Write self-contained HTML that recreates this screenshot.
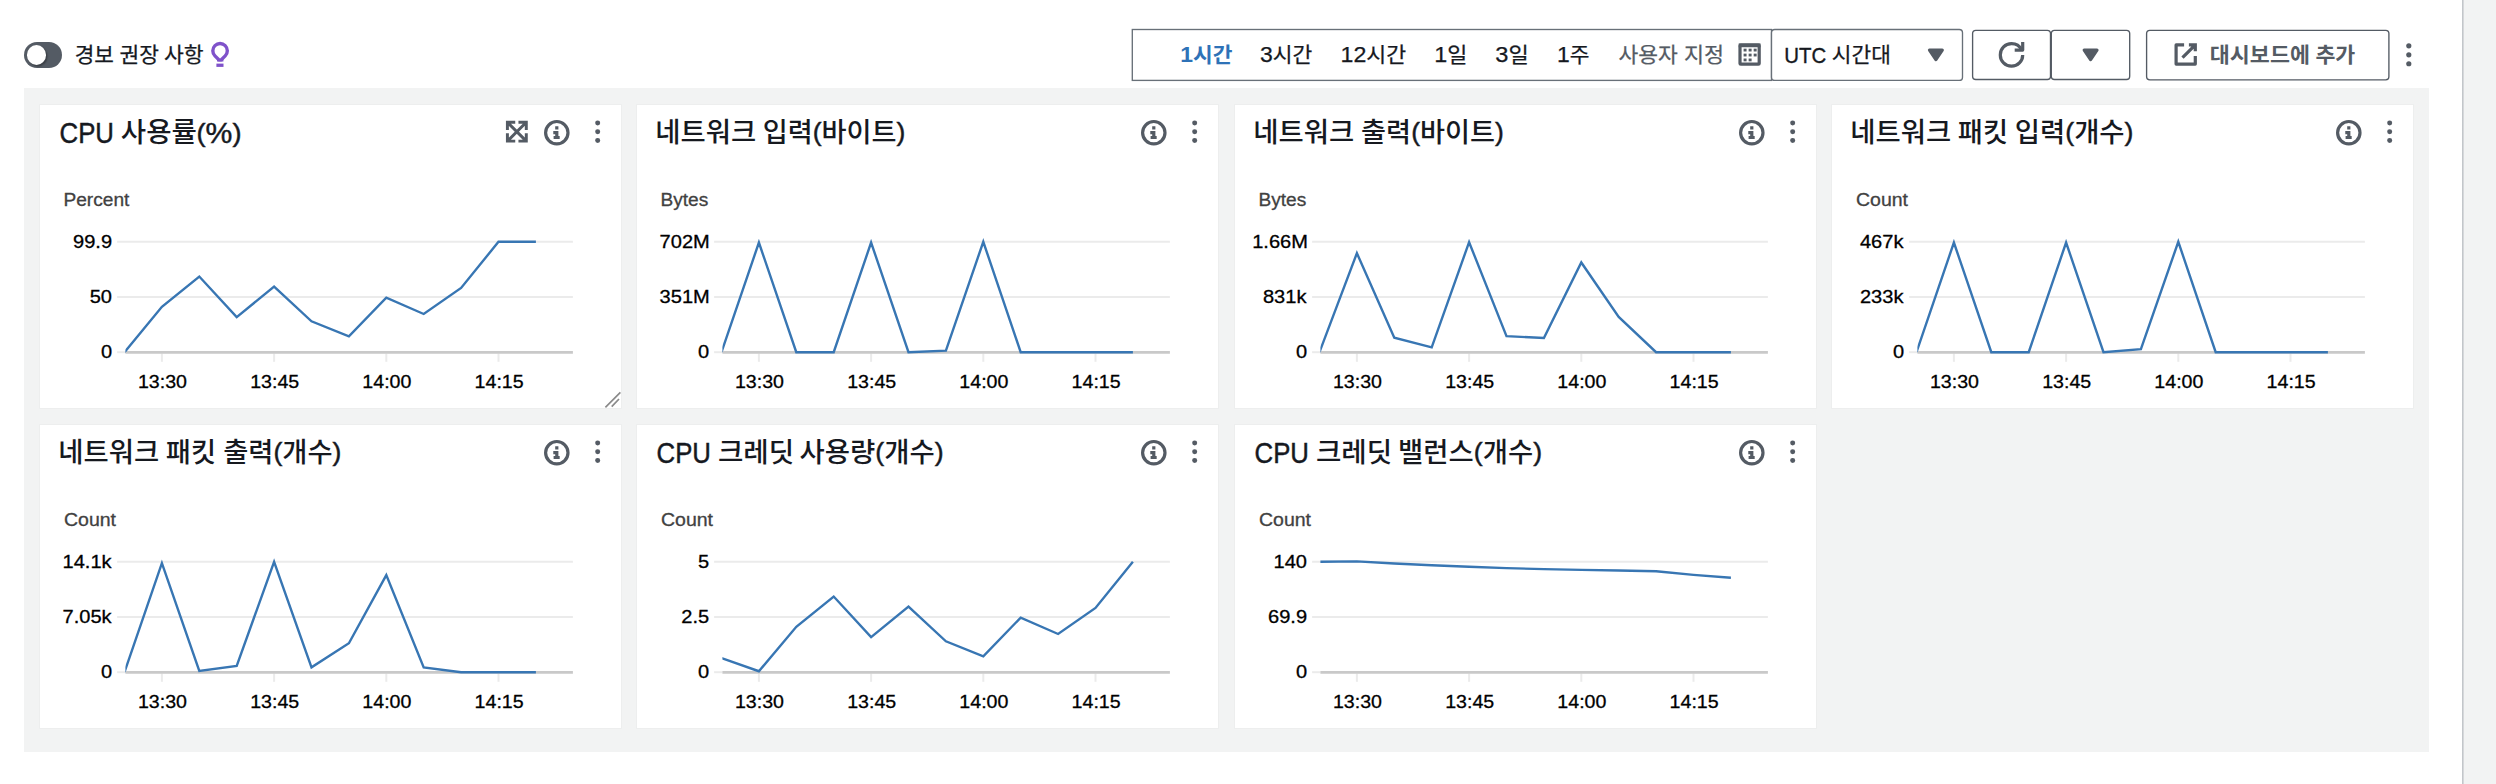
<!DOCTYPE html>
<html lang="ko"><head><meta charset="utf-8"><title>CloudWatch</title>
<style>
*{box-sizing:border-box;margin:0;padding:0}
html,body{width:2496px;height:784px;overflow:hidden;background:#fff}
body{font-family:"Liberation Sans", "Noto Sans CJK KR", sans-serif;color:#16191f;position:relative}
div{position:absolute}
#side{left:2461.6px;top:0;width:35px;height:784px;background:linear-gradient(to right,#c9ccd0 0,#bfc3c7 0.8px,#d9dbdd 1.6px,#f2f3f3 2.4px)}
#grid{left:24px;top:88px;width:2405px;height:664px;background:#f2f3f3}
.panel{width:581.4px;height:303.4px;background:#fff;box-shadow:0 0 0 0.8px #ebeded}
.bx{fill:#fff;stroke:#687078;stroke-width:1.35}
.bt{fill:#fff;stroke:#545b64;stroke-width:1.35}
svg{position:absolute;left:0;top:0;overflow:visible}
text{font-family:"Liberation Sans", "Noto Sans CJK KR", sans-serif;white-space:pre}
.ic{fill:none;stroke:#545b64;stroke-width:2;stroke-linejoin:round}
.sq{stroke-linejoin:miter}
.icf{fill:#545b64;stroke:none}
.grid{stroke:#ebebeb;stroke-width:2}
.base{stroke:#c9c9c9;stroke-width:2.8}
.ln{fill:none;stroke:#3876b3;stroke-width:2.4;stroke-linejoin:miter}
.rz{fill:none;stroke:#8a8a8a;stroke-width:1.7}
.tt{font-size:26.9px;fill:#16191f;font-weight:500}
.tl{font-size:28.6px;fill:#16191f;stroke:#16191f;stroke-width:0.45px}
.pa{font-size:26.2px;font-weight:400;stroke:#16191f;stroke-width:0.45px}
.pc{font-size:29px}
.tb{font-size:20.9px;fill:#16191f;stroke:#16191f;stroke-width:0.25px}
.tb .la{font-size:22.4px}
.tbl{font-size:22.4px;fill:#16191f;stroke:#16191f;stroke-width:0.35px}
.sel{fill:#2e72b7;stroke:none;font-weight:bold}
.gr{fill:#545b64;stroke:#545b64}
.bd{font-weight:bold;stroke:none}
.unit{font-size:19.2px;fill:#414141;stroke:#414141;stroke-width:0.3px}
.ax{font-size:19.2px;fill:#000;stroke:#000;stroke-width:0.3px}
</style></head><body>
<div id="side"></div>
<div style="left:24px;top:42px;width:38.4px;height:25.8px;border-radius:13px;background:#545b64"></div>
<div style="left:26.6px;top:44.75px;width:19.6px;height:20.3px;border-radius:50%;background:#fff;box-shadow:1.5px 1.5px 1.5px rgba(0,0,0,.3)"></div>
<div id="grid"></div>
<div class="panel" style="left:39.80px;top:104.70px"></div>
<div class="panel" style="left:637.00px;top:104.70px"></div>
<div class="panel" style="left:1234.50px;top:104.70px"></div>
<div class="panel" style="left:1832.00px;top:104.70px"></div>
<div class="panel" style="left:39.80px;top:424.80px"></div>
<div class="panel" style="left:637.00px;top:424.80px"></div>
<div class="panel" style="left:1234.50px;top:424.80px"></div>
<svg width="2496" height="784" viewBox="0 0 2496 784">
<rect class="bx" x="1132.30" y="29.50" width="639.20" height="50.90" rx="0.0"/>
<rect class="bx" x="1771.50" y="29.50" width="191.00" height="50.90" rx="3.2"/>
<rect class="bt" x="1972.60" y="30.40" width="77.90" height="49.10" rx="3.2"/>
<rect class="bt" x="2051.30" y="30.40" width="78.40" height="49.10" rx="3.2"/>
<rect class="bt" x="2146.60" y="30.40" width="242.30" height="49.40" rx="3.2"/>
<defs><clipPath id="pc"><rect x="85.60" y="100" width="460" height="160"/></clipPath></defs>
<g transform="translate(39.80 104.60)">
<line class="grid" x1="77.3" y1="137.20" x2="533.1" y2="137.20"/>
<line class="grid" x1="77.3" y1="192.35" x2="533.1" y2="192.35"/>
<line class="grid" x1="77.3" y1="247.60" x2="85.6" y2="247.60"/>
<line class="grid" x1="122.10" y1="249.00" x2="122.10" y2="257.20"/>
<line class="grid" x1="234.30" y1="249.00" x2="234.30" y2="257.20"/>
<line class="grid" x1="346.50" y1="249.00" x2="346.50" y2="257.20"/>
<line class="grid" x1="458.70" y1="249.00" x2="458.70" y2="257.20"/>
<line class="base" x1="85.6" y1="247.75" x2="533.1" y2="247.75"/>
<polyline class="ln" clip-path="url(#pc)" points="84.70,247.60 122.10,202.24 159.50,171.94 196.90,212.47 234.30,181.98 271.70,216.72 309.10,231.77 346.50,192.98 383.90,209.38 421.30,183.33 458.70,137.20 496.10,137.20"/>
<text class="ax" x="33.22" y="143.65" textLength="39.04" lengthAdjust="spacingAndGlyphs">99.9</text>
<text class="ax" x="49.83" y="198.65" textLength="22.30" lengthAdjust="spacingAndGlyphs">50</text>
<text class="ax" x="61.15" y="253.30" textLength="11.15" lengthAdjust="spacingAndGlyphs">0</text>
<text class="ax" x="98.12" y="283.20" textLength="49.07" lengthAdjust="spacingAndGlyphs">13:30</text>
<text class="ax" x="210.40" y="283.20" textLength="49.07" lengthAdjust="spacingAndGlyphs">13:45</text>
<text class="ax" x="322.52" y="283.20" textLength="49.07" lengthAdjust="spacingAndGlyphs">14:00</text>
<text class="ax" x="434.80" y="283.20" textLength="49.07" lengthAdjust="spacingAndGlyphs">14:15</text>
<g transform="translate(464.25 14.30) scale(1.6)" class="ic sq"><path stroke-width="1.85" d="M2.100 7V2.100h4.900M9 2.100h4.900V7M13.900 9v4.900H9M7 13.900H2.100V9M2.100 2.100l11.800 11.800M13.900 2.100L2.100 13.900"/></g>
<path class="rz" d="M565.6 302.7L580.6 287.8M571.9 302L579.2 294.4"/>
<g transform="translate(504.20 15.30) scale(1.6)" class="ic"><circle cx="8" cy="8" r="7"/><path stroke-linejoin="miter" d="M8 11V8H5.800M6 11h3.800M7 5h2"/></g>
<g transform="translate(545.10 14.35) scale(1.6)" class="icf"><circle cx="8" cy="2.5" r="1.56"/><circle cx="8" cy="8" r="1.56"/><circle cx="8" cy="13.5" r="1.56"/></g>
</g>
<g transform="translate(636.80 104.60)">
<line class="grid" x1="77.3" y1="137.20" x2="533.1" y2="137.20"/>
<line class="grid" x1="77.3" y1="192.35" x2="533.1" y2="192.35"/>
<line class="grid" x1="77.3" y1="247.60" x2="85.6" y2="247.60"/>
<line class="grid" x1="122.10" y1="249.00" x2="122.10" y2="257.20"/>
<line class="grid" x1="234.30" y1="249.00" x2="234.30" y2="257.20"/>
<line class="grid" x1="346.50" y1="249.00" x2="346.50" y2="257.20"/>
<line class="grid" x1="458.70" y1="249.00" x2="458.70" y2="257.20"/>
<line class="base" x1="85.6" y1="247.75" x2="533.1" y2="247.75"/>
<polyline class="ln" clip-path="url(#pc)" points="84.70,247.60 122.10,137.97 159.50,247.60 196.90,247.60 234.30,137.97 271.70,247.60 309.10,246.06 346.50,137.20 383.90,247.60 421.30,247.60 458.70,247.60 496.10,247.60"/>
<text class="ax" x="22.79" y="143.65" textLength="50.16" lengthAdjust="spacingAndGlyphs">702M</text>
<text class="ax" x="22.79" y="198.65" textLength="50.16" lengthAdjust="spacingAndGlyphs">351M</text>
<text class="ax" x="61.15" y="253.30" textLength="11.15" lengthAdjust="spacingAndGlyphs">0</text>
<text class="ax" x="98.12" y="283.20" textLength="49.07" lengthAdjust="spacingAndGlyphs">13:30</text>
<text class="ax" x="210.40" y="283.20" textLength="49.07" lengthAdjust="spacingAndGlyphs">13:45</text>
<text class="ax" x="322.52" y="283.20" textLength="49.07" lengthAdjust="spacingAndGlyphs">14:00</text>
<text class="ax" x="434.80" y="283.20" textLength="49.07" lengthAdjust="spacingAndGlyphs">14:15</text>
<g transform="translate(504.20 15.30) scale(1.6)" class="ic"><circle cx="8" cy="8" r="7"/><path stroke-linejoin="miter" d="M8 11V8H5.800M6 11h3.800M7 5h2"/></g>
<g transform="translate(545.10 14.35) scale(1.6)" class="icf"><circle cx="8" cy="2.5" r="1.56"/><circle cx="8" cy="8" r="1.56"/><circle cx="8" cy="13.5" r="1.56"/></g>
</g>
<g transform="translate(1234.80 104.60)">
<line class="grid" x1="77.3" y1="137.20" x2="533.1" y2="137.20"/>
<line class="grid" x1="77.3" y1="192.35" x2="533.1" y2="192.35"/>
<line class="grid" x1="77.3" y1="247.60" x2="85.6" y2="247.60"/>
<line class="grid" x1="122.10" y1="249.00" x2="122.10" y2="257.20"/>
<line class="grid" x1="234.30" y1="249.00" x2="234.30" y2="257.20"/>
<line class="grid" x1="346.50" y1="249.00" x2="346.50" y2="257.20"/>
<line class="grid" x1="458.70" y1="249.00" x2="458.70" y2="257.20"/>
<line class="base" x1="85.6" y1="247.75" x2="533.1" y2="247.75"/>
<polyline class="ln" clip-path="url(#pc)" points="84.70,247.60 122.10,148.59 159.50,233.12 196.90,242.77 234.30,137.59 271.70,231.58 309.10,233.32 346.50,157.85 383.90,212.28 421.30,247.60 458.70,247.60 496.10,247.60"/>
<text class="ax" x="17.38" y="143.65" textLength="55.73" lengthAdjust="spacingAndGlyphs">1.66M</text>
<text class="ax" x="28.17" y="198.65" textLength="43.48" lengthAdjust="spacingAndGlyphs">831k</text>
<text class="ax" x="61.15" y="253.30" textLength="11.15" lengthAdjust="spacingAndGlyphs">0</text>
<text class="ax" x="98.12" y="283.20" textLength="49.07" lengthAdjust="spacingAndGlyphs">13:30</text>
<text class="ax" x="210.40" y="283.20" textLength="49.07" lengthAdjust="spacingAndGlyphs">13:45</text>
<text class="ax" x="322.52" y="283.20" textLength="49.07" lengthAdjust="spacingAndGlyphs">14:00</text>
<text class="ax" x="434.80" y="283.20" textLength="49.07" lengthAdjust="spacingAndGlyphs">14:15</text>
<g transform="translate(504.20 15.30) scale(1.6)" class="ic"><circle cx="8" cy="8" r="7"/><path stroke-linejoin="miter" d="M8 11V8H5.800M6 11h3.800M7 5h2"/></g>
<g transform="translate(545.10 14.35) scale(1.6)" class="icf"><circle cx="8" cy="2.5" r="1.56"/><circle cx="8" cy="8" r="1.56"/><circle cx="8" cy="13.5" r="1.56"/></g>
</g>
<g transform="translate(1831.80 104.60)">
<line class="grid" x1="77.3" y1="137.20" x2="533.1" y2="137.20"/>
<line class="grid" x1="77.3" y1="192.35" x2="533.1" y2="192.35"/>
<line class="grid" x1="77.3" y1="247.60" x2="85.6" y2="247.60"/>
<line class="grid" x1="122.10" y1="249.00" x2="122.10" y2="257.20"/>
<line class="grid" x1="234.30" y1="249.00" x2="234.30" y2="257.20"/>
<line class="grid" x1="346.50" y1="249.00" x2="346.50" y2="257.20"/>
<line class="grid" x1="458.70" y1="249.00" x2="458.70" y2="257.20"/>
<line class="base" x1="85.6" y1="247.75" x2="533.1" y2="247.75"/>
<polyline class="ln" clip-path="url(#pc)" points="84.70,247.60 122.10,137.97 159.50,247.60 196.90,247.60 234.30,137.97 271.70,247.60 309.10,244.51 346.50,137.20 383.90,247.60 421.30,247.60 458.70,247.60 496.10,247.60"/>
<text class="ax" x="28.17" y="143.65" textLength="43.48" lengthAdjust="spacingAndGlyphs">467k</text>
<text class="ax" x="28.17" y="198.65" textLength="43.48" lengthAdjust="spacingAndGlyphs">233k</text>
<text class="ax" x="61.15" y="253.30" textLength="11.15" lengthAdjust="spacingAndGlyphs">0</text>
<text class="ax" x="98.12" y="283.20" textLength="49.07" lengthAdjust="spacingAndGlyphs">13:30</text>
<text class="ax" x="210.40" y="283.20" textLength="49.07" lengthAdjust="spacingAndGlyphs">13:45</text>
<text class="ax" x="322.52" y="283.20" textLength="49.07" lengthAdjust="spacingAndGlyphs">14:00</text>
<text class="ax" x="434.80" y="283.20" textLength="49.07" lengthAdjust="spacingAndGlyphs">14:15</text>
<g transform="translate(504.20 15.30) scale(1.6)" class="ic"><circle cx="8" cy="8" r="7"/><path stroke-linejoin="miter" d="M8 11V8H5.800M6 11h3.800M7 5h2"/></g>
<g transform="translate(545.10 14.35) scale(1.6)" class="icf"><circle cx="8" cy="2.5" r="1.56"/><circle cx="8" cy="8" r="1.56"/><circle cx="8" cy="13.5" r="1.56"/></g>
</g>
<g transform="translate(39.80 424.60)">
<line class="grid" x1="77.3" y1="137.20" x2="533.1" y2="137.20"/>
<line class="grid" x1="77.3" y1="192.35" x2="533.1" y2="192.35"/>
<line class="grid" x1="77.3" y1="247.60" x2="85.6" y2="247.60"/>
<line class="grid" x1="122.10" y1="249.00" x2="122.10" y2="257.20"/>
<line class="grid" x1="234.30" y1="249.00" x2="234.30" y2="257.20"/>
<line class="grid" x1="346.50" y1="249.00" x2="346.50" y2="257.20"/>
<line class="grid" x1="458.70" y1="249.00" x2="458.70" y2="257.20"/>
<line class="base" x1="85.6" y1="247.75" x2="533.1" y2="247.75"/>
<polyline class="ln" clip-path="url(#pc)" points="84.70,247.60 122.10,138.55 159.50,246.25 196.90,241.23 234.30,137.20 271.70,242.77 309.10,218.65 346.50,150.52 383.90,242.77 421.30,247.60 458.70,247.60 496.10,247.60"/>
<text class="ax" x="22.71" y="143.65" textLength="49.07" lengthAdjust="spacingAndGlyphs">14.1k</text>
<text class="ax" x="22.71" y="198.65" textLength="49.07" lengthAdjust="spacingAndGlyphs">7.05k</text>
<text class="ax" x="61.15" y="253.30" textLength="11.15" lengthAdjust="spacingAndGlyphs">0</text>
<text class="ax" x="98.12" y="283.20" textLength="49.07" lengthAdjust="spacingAndGlyphs">13:30</text>
<text class="ax" x="210.40" y="283.20" textLength="49.07" lengthAdjust="spacingAndGlyphs">13:45</text>
<text class="ax" x="322.52" y="283.20" textLength="49.07" lengthAdjust="spacingAndGlyphs">14:00</text>
<text class="ax" x="434.80" y="283.20" textLength="49.07" lengthAdjust="spacingAndGlyphs">14:15</text>
<g transform="translate(504.20 15.30) scale(1.6)" class="ic"><circle cx="8" cy="8" r="7"/><path stroke-linejoin="miter" d="M8 11V8H5.800M6 11h3.800M7 5h2"/></g>
<g transform="translate(545.10 14.35) scale(1.6)" class="icf"><circle cx="8" cy="2.5" r="1.56"/><circle cx="8" cy="8" r="1.56"/><circle cx="8" cy="13.5" r="1.56"/></g>
</g>
<g transform="translate(636.80 424.60)">
<line class="grid" x1="77.3" y1="137.20" x2="533.1" y2="137.20"/>
<line class="grid" x1="77.3" y1="192.35" x2="533.1" y2="192.35"/>
<line class="grid" x1="77.3" y1="247.60" x2="85.6" y2="247.60"/>
<line class="grid" x1="122.10" y1="249.00" x2="122.10" y2="257.20"/>
<line class="grid" x1="234.30" y1="249.00" x2="234.30" y2="257.20"/>
<line class="grid" x1="346.50" y1="249.00" x2="346.50" y2="257.20"/>
<line class="grid" x1="458.70" y1="249.00" x2="458.70" y2="257.20"/>
<line class="base" x1="85.6" y1="247.75" x2="533.1" y2="247.75"/>
<polyline class="ln" clip-path="url(#pc)" points="84.70,233.51 122.10,246.63 159.50,202.24 196.90,171.94 234.30,212.47 271.70,181.98 309.10,216.72 346.50,231.77 383.90,192.98 421.30,209.38 458.70,183.33 496.10,137.20"/>
<text class="ax" x="61.21" y="143.65" textLength="11.15" lengthAdjust="spacingAndGlyphs">5</text>
<text class="ax" x="44.49" y="198.65" textLength="27.89" lengthAdjust="spacingAndGlyphs">2.5</text>
<text class="ax" x="61.15" y="253.30" textLength="11.15" lengthAdjust="spacingAndGlyphs">0</text>
<text class="ax" x="98.12" y="283.20" textLength="49.07" lengthAdjust="spacingAndGlyphs">13:30</text>
<text class="ax" x="210.40" y="283.20" textLength="49.07" lengthAdjust="spacingAndGlyphs">13:45</text>
<text class="ax" x="322.52" y="283.20" textLength="49.07" lengthAdjust="spacingAndGlyphs">14:00</text>
<text class="ax" x="434.80" y="283.20" textLength="49.07" lengthAdjust="spacingAndGlyphs">14:15</text>
<g transform="translate(504.20 15.30) scale(1.6)" class="ic"><circle cx="8" cy="8" r="7"/><path stroke-linejoin="miter" d="M8 11V8H5.800M6 11h3.800M7 5h2"/></g>
<g transform="translate(545.10 14.35) scale(1.6)" class="icf"><circle cx="8" cy="2.5" r="1.56"/><circle cx="8" cy="8" r="1.56"/><circle cx="8" cy="13.5" r="1.56"/></g>
</g>
<g transform="translate(1234.80 424.60)">
<line class="grid" x1="77.3" y1="137.20" x2="533.1" y2="137.20"/>
<line class="grid" x1="77.3" y1="192.35" x2="533.1" y2="192.35"/>
<line class="grid" x1="77.3" y1="247.60" x2="85.6" y2="247.60"/>
<line class="grid" x1="122.10" y1="249.00" x2="122.10" y2="257.20"/>
<line class="grid" x1="234.30" y1="249.00" x2="234.30" y2="257.20"/>
<line class="grid" x1="346.50" y1="249.00" x2="346.50" y2="257.20"/>
<line class="grid" x1="458.70" y1="249.00" x2="458.70" y2="257.20"/>
<line class="base" x1="85.6" y1="247.75" x2="533.1" y2="247.75"/>
<polyline class="ln" clip-path="url(#pc)" points="84.70,137.20 122.10,136.81 159.50,138.94 196.90,140.67 234.30,142.22 271.70,143.57 309.10,144.53 346.50,145.31 383.90,145.89 421.30,146.66 458.70,150.32 496.10,153.22"/>
<text class="ax" x="38.69" y="143.65" textLength="33.46" lengthAdjust="spacingAndGlyphs">140</text>
<text class="ax" x="33.22" y="198.65" textLength="39.04" lengthAdjust="spacingAndGlyphs">69.9</text>
<text class="ax" x="61.15" y="253.30" textLength="11.15" lengthAdjust="spacingAndGlyphs">0</text>
<text class="ax" x="98.12" y="283.20" textLength="49.07" lengthAdjust="spacingAndGlyphs">13:30</text>
<text class="ax" x="210.40" y="283.20" textLength="49.07" lengthAdjust="spacingAndGlyphs">13:45</text>
<text class="ax" x="322.52" y="283.20" textLength="49.07" lengthAdjust="spacingAndGlyphs">14:00</text>
<text class="ax" x="434.80" y="283.20" textLength="49.07" lengthAdjust="spacingAndGlyphs">14:15</text>
<g transform="translate(504.20 15.30) scale(1.6)" class="ic"><circle cx="8" cy="8" r="7"/><path stroke-linejoin="miter" d="M8 11V8H5.800M6 11h3.800M7 5h2"/></g>
<g transform="translate(545.10 14.35) scale(1.6)" class="icf"><circle cx="8" cy="2.5" r="1.56"/><circle cx="8" cy="8" r="1.56"/><circle cx="8" cy="13.5" r="1.56"/></g>
</g>
<g transform="translate(1736.80 41.80) scale(1.6)" class=""><rect x="2" y="2" width="12" height="12" rx="0.5" class="ic"/><rect x="1.2" y="1" width="13.6" height="2.4" class="icf"/><rect x="4.25" y="4.30" width="1.85" height="1.75" class="icf"/><rect x="7.40" y="4.30" width="1.85" height="1.75" class="icf"/><rect x="10.55" y="4.30" width="1.85" height="1.75" class="icf"/><rect x="4.25" y="7.40" width="1.85" height="1.75" class="icf"/><rect x="7.40" y="7.40" width="1.85" height="1.75" class="icf"/><rect x="10.55" y="7.40" width="1.85" height="1.75" class="icf"/><rect x="4.25" y="10.45" width="1.85" height="1.75" class="icf"/><rect x="7.40" y="10.45" width="1.85" height="1.75" class="icf"/></g>
<g transform="translate(1923.10 42.00) scale(1.6)" class="icf"><path d="M4 5h8l-4 6-4-6z" stroke="#545b64" stroke-width="2" stroke-linejoin="round"/></g>
<g transform="translate(1998.70 42.10) scale(1.6)" class="ic"><path d="M10 5h5V0"/><path d="M15 8a6.957 6.957 0 0 1-7 7 6.957 6.957 0 0 1-7-7 6.957 6.957 0 0 1 7-7 6.870 6.870 0 0 1 6.300 4"/></g>
<g transform="translate(2077.80 42.00) scale(1.6)" class="icf"><path d="M4 5h8l-4 6-4-6z" stroke="#545b64" stroke-width="2" stroke-linejoin="round"/></g>
<g transform="translate(2172.90 41.70) scale(1.6)" class="ic sq"><path d="M10 2h4v4M6 10l8-8"/><path d="M14 9v5H2V2h5" stroke-linejoin="round"/></g>
<g transform="translate(2396 42) scale(1.6)" class="icf"><circle cx="8" cy="2.4" r="1.62"/><circle cx="8" cy="8" r="1.62"/><circle cx="8" cy="13.6" r="1.62"/></g>
<g fill="none" stroke="#7f52ca" stroke-width="3.4" stroke-linejoin="miter"><clipPath id="bc"><rect x="205" y="38" width="30" height="23.5"/></clipPath><path clip-path="url(#bc)" d="M214.94 55.83A7.25 7.25 0 1 1 225.20 55.83L220.07 60.96Z"/><rect x="217" y="59.2" width="6.4" height="2.3" fill="#7f52ca" stroke="none"/><rect x="216.4" y="63.6" width="7.1" height="3.3" fill="#7f52ca" stroke="none"/></g>
<text class="tl" x="59.54" y="142.90" textLength="54.43" lengthAdjust="spacingAndGlyphs">CPU</text>
<text class="tt" x="120.85" y="142.10" textLength="76.01" lengthAdjust="spacingAndGlyphs">사용률</text>
<text class="tl" x="196.47" y="142.90" textLength="45.01" lengthAdjust="spacingAndGlyphs"><tspan class="pa" dy="-1.2">(</tspan><tspan class="pc" dy="1.2">%</tspan><tspan class="pa" dy="-1.2">)</tspan></text>
<text class="tt" x="655.34" y="142.10" textLength="100.88" lengthAdjust="spacingAndGlyphs">네트워크</text>
<text class="tt" x="762.66" y="142.10" textLength="142.78" lengthAdjust="spacingAndGlyphs">입력<tspan class="pa" dy="-1.2">(</tspan><tspan dy="1.2">바이트</tspan><tspan class="pa" dy="-1.2">)</tspan></text>
<text class="tt" x="1253.34" y="142.10" textLength="100.88" lengthAdjust="spacingAndGlyphs">네트워크</text>
<text class="tt" x="1361.12" y="142.10" textLength="142.72" lengthAdjust="spacingAndGlyphs">출력<tspan class="pa" dy="-1.2">(</tspan><tspan dy="1.2">바이트</tspan><tspan class="pa" dy="-1.2">)</tspan></text>
<text class="tt" x="1850.34" y="142.10" textLength="100.88" lengthAdjust="spacingAndGlyphs">네트워크</text>
<text class="tt" x="1957.74" y="142.10" textLength="50.29" lengthAdjust="spacingAndGlyphs">패킷</text>
<text class="tt" x="2014.75" y="142.10" textLength="118.75" lengthAdjust="spacingAndGlyphs">입력<tspan class="pa" dy="-1.2">(</tspan><tspan dy="1.2">개수</tspan><tspan class="pa" dy="-1.2">)</tspan></text>
<text class="tt" x="58.34" y="462.10" textLength="100.88" lengthAdjust="spacingAndGlyphs">네트워크</text>
<text class="tt" x="165.74" y="462.10" textLength="50.29" lengthAdjust="spacingAndGlyphs">패킷</text>
<text class="tt" x="223.22" y="462.10" textLength="118.27" lengthAdjust="spacingAndGlyphs">출력<tspan class="pa" dy="-1.2">(</tspan><tspan dy="1.2">개수</tspan><tspan class="pa" dy="-1.2">)</tspan></text>
<text class="tl" x="656.54" y="462.90" textLength="54.43" lengthAdjust="spacingAndGlyphs">CPU</text>
<text class="tt" x="717.91" y="462.10" textLength="76.23" lengthAdjust="spacingAndGlyphs">크레딧</text>
<text class="tt" x="799.51" y="462.10" textLength="144.05" lengthAdjust="spacingAndGlyphs">사용량<tspan class="pa" dy="-1.2">(</tspan><tspan dy="1.2">개수</tspan><tspan class="pa" dy="-1.2">)</tspan></text>
<text class="tl" x="1254.54" y="462.90" textLength="54.43" lengthAdjust="spacingAndGlyphs">CPU</text>
<text class="tt" x="1315.91" y="462.10" textLength="76.23" lengthAdjust="spacingAndGlyphs">크레딧</text>
<text class="tt" x="1398.12" y="462.10" textLength="143.94" lengthAdjust="spacingAndGlyphs">밸런스<tspan class="pa" dy="-1.2">(</tspan><tspan dy="1.2">개수</tspan><tspan class="pa" dy="-1.2">)</tspan></text>
<text class="unit" x="63.45" y="205.80" textLength="65.98" lengthAdjust="spacingAndGlyphs">Percent</text>
<text class="unit" x="660.45" y="205.80" textLength="47.80" lengthAdjust="spacingAndGlyphs">Bytes</text>
<text class="unit" x="1258.45" y="205.80" textLength="47.80" lengthAdjust="spacingAndGlyphs">Bytes</text>
<text class="unit" x="1855.96" y="205.80" textLength="52.04" lengthAdjust="spacingAndGlyphs">Count</text>
<text class="unit" x="63.96" y="525.80" textLength="52.04" lengthAdjust="spacingAndGlyphs">Count</text>
<text class="unit" x="660.96" y="525.80" textLength="52.04" lengthAdjust="spacingAndGlyphs">Count</text>
<text class="unit" x="1258.96" y="525.80" textLength="52.04" lengthAdjust="spacingAndGlyphs">Count</text>
<text class="tb" x="74.72" y="61.80" textLength="39.23" lengthAdjust="spacingAndGlyphs">경보</text>
<text class="tb" x="119.41" y="61.80" textLength="39.46" lengthAdjust="spacingAndGlyphs">권장</text>
<text class="tb" x="163.95" y="61.80" textLength="39.69" lengthAdjust="spacingAndGlyphs">사항</text>
<text class="tb sel" x="1180.23" y="61.80" textLength="52.19" lengthAdjust="spacingAndGlyphs"><tspan class="la">1</tspan>시간</text>
<text class="tb" x="1259.98" y="61.80" textLength="52.31" lengthAdjust="spacingAndGlyphs"><tspan class="la">3</tspan>시간</text>
<text class="tb" x="1340.52" y="61.80" textLength="65.66" lengthAdjust="spacingAndGlyphs"><tspan class="la">12</tspan>시간</text>
<text class="tb" x="1434.31" y="61.80" textLength="33.08" lengthAdjust="spacingAndGlyphs"><tspan class="la">1</tspan>일</text>
<text class="tb" x="1495.25" y="61.80" textLength="33.47" lengthAdjust="spacingAndGlyphs"><tspan class="la">3</tspan>일</text>
<text class="tb" x="1556.94" y="61.80" textLength="32.53" lengthAdjust="spacingAndGlyphs"><tspan class="la">1</tspan>주</text>
<text class="tb gr" x="1618.55" y="61.80" textLength="59.35" lengthAdjust="spacingAndGlyphs">사용자</text>
<text class="tb gr" x="1684.06" y="61.80" textLength="40.12" lengthAdjust="spacingAndGlyphs">지정</text>
<text class="tbl" x="1784.36" y="62.90" textLength="41.97" lengthAdjust="spacingAndGlyphs">UTC</text>
<text class="tb" x="1831.87" y="61.80" textLength="59.04" lengthAdjust="spacingAndGlyphs">시간대</text>
<text class="tb gr bd" x="2209.87" y="61.80" textLength="100.04" lengthAdjust="spacingAndGlyphs">대시보드에</text>
<text class="tb gr bd" x="2315.43" y="61.80" textLength="39.89" lengthAdjust="spacingAndGlyphs">추가</text>
</svg>
</body></html>
